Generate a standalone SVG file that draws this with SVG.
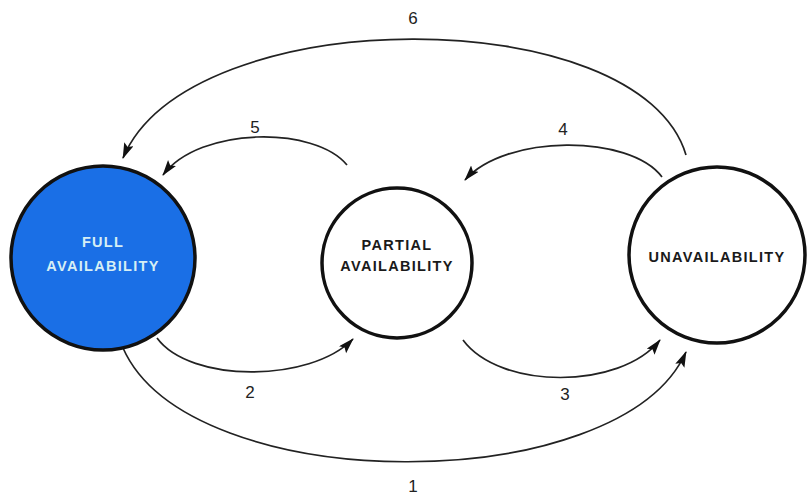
<svg xmlns="http://www.w3.org/2000/svg" width="811" height="498" viewBox="0 0 811 498">
<style>
.node{stroke:#111;stroke-width:3.5}
.lbl{font-family:"Liberation Sans",Arial,sans-serif;font-size:14.5px;font-weight:bold;letter-spacing:1.3px;text-anchor:middle}
.num{font-family:"Liberation Sans",Arial,sans-serif;font-size:17px;fill:#222;text-anchor:middle}
.arc{fill:none;stroke:#222;stroke-width:1.7}
</style>
<defs>
<marker id="ah" markerUnits="userSpaceOnUse" markerWidth="16" markerHeight="11" refX="15" refY="5" orient="auto">
<path d="M0,0 L16,5 L0,10 L3,5 z" fill="#111"/>
</marker>
</defs>
<rect width="811" height="498" fill="#fff"/>
<g id="connectors">
<path class="arc" d="M686,155 C640,0 190,0 123,158" marker-end="url(#ah)"/>
<path class="arc" d="M347,165 C315,126 200,126 163,175" marker-end="url(#ah)"/>
<path class="arc" d="M662,177 C630,134 505,134 465,180" marker-end="url(#ah)"/>
<path class="arc" d="M157,338 C190,383 310,383 353,339" marker-end="url(#ah)"/>
<path class="arc" d="M463,340 C500,390 620,390 660,340" marker-end="url(#ah)"/>
<path class="arc" d="M123,348 C190,499 620,499 686,352" marker-end="url(#ah)"/>
<text class="num" x="413" y="24">6</text>
<text class="num" x="255" y="133">5</text>
<text class="num" x="563" y="135">4</text>
<text class="num" x="250" y="398">2</text>
<text class="num" x="565" y="400">3</text>
<text class="num" x="413" y="492">1</text>
</g>
<g id="full">
<circle class="node" cx="103" cy="258" r="92" fill="#1a6fe6"/>
<text class="lbl" x="103" y="247" fill="#d6eef4">FULL</text>
<text class="lbl" x="103" y="271" fill="#d6eef4">AVAILABILITY</text>
</g>
<g id="partial">
<circle class="node" cx="397" cy="263" r="75" fill="#fff"/>
<text class="lbl" x="397" y="250" fill="#1a1a1a">PARTIAL</text>
<text class="lbl" x="397" y="271" fill="#1a1a1a">AVAILABILITY</text>
</g>
<g id="unavail">
<circle class="node" cx="717" cy="255" r="88" fill="#fff"/>
<text class="lbl" x="717" y="262" fill="#1a1a1a">UNAVAILABILITY</text>
</g>
</svg>
